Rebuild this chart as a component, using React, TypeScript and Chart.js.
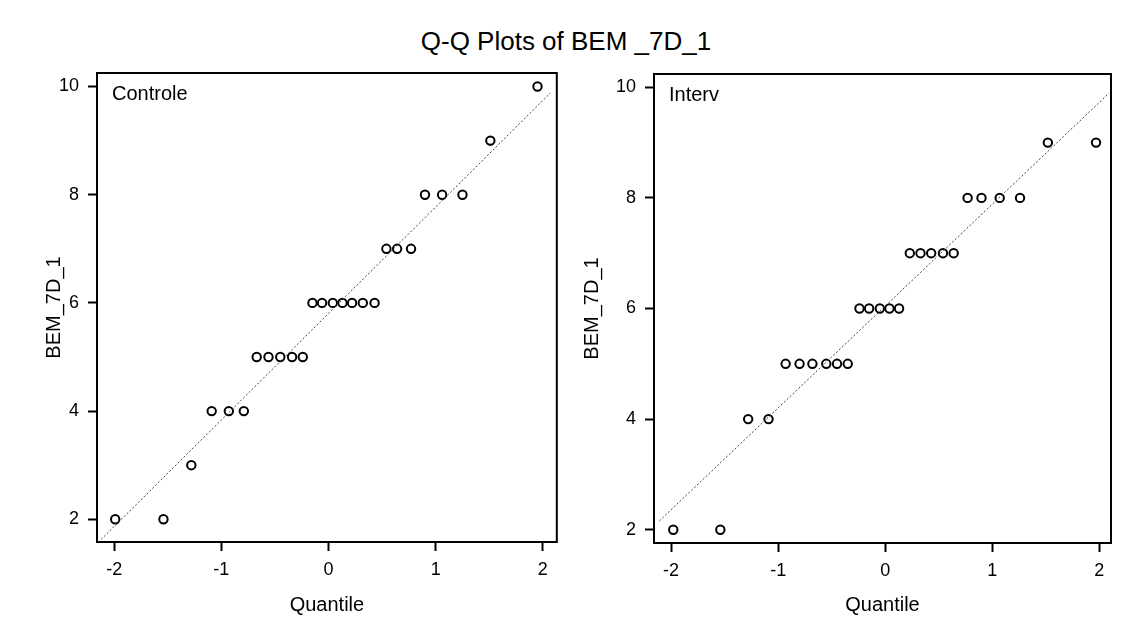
import React, { useEffect, useRef } from "react";
import { Chart, registerables } from "chart.js";

Chart.register(...registerables);

const titleText = "Q-Q Plots of BEM _7D_1";
const yAxisTitle = "BEM_7D_1";
const xAxisTitle = "Quantile";
const xTicks = [-2, -1, 0, 1, 2];
const yTicks = [2, 4, 6, 8, 10];

const ctrlLabel = "Controle";
const ctrlQ = [-1.99, -1.54, -1.28, -1.09, -0.93, -0.79, -0.67, -0.56, -0.45, -0.34, -0.24, -0.15, -0.06, 0.04, 0.13, 0.22, 0.32, 0.43, 0.54, 0.64, 0.77, 0.9, 1.06, 1.25, 1.51, 1.95];
const ctrlV = [2, 2, 3, 4, 4, 4, 5, 5, 5, 5, 5, 6, 6, 6, 6, 6, 6, 6, 7, 7, 7, 8, 8, 8, 9, 10];
const ctrlLineX = [-2.12, 2.07];
const ctrlLineY = [1.63, 9.88];

const intLabel = "Interv";
const intQ = [-1.98, -1.54, -1.28, -1.09, -0.93, -0.8, -0.68, -0.55, -0.45, -0.35, -0.24, -0.15, -0.05, 0.04, 0.13, 0.23, 0.33, 0.43, 0.54, 0.64, 0.77, 0.9, 1.07, 1.26, 1.52, 1.97];
const intV = [2, 2, 4, 4, 5, 5, 5, 5, 5, 5, 6, 6, 6, 6, 6, 7, 7, 7, 7, 7, 8, 8, 8, 8, 9, 9];
const intLineX = [-2.11, 2.09];
const intLineY = [2.16, 9.89];

const FONT = "'Liberation Sans', Arial, sans-serif";

type PanelProps = {
  left: number;
  label: string;
  q: number[];
  v: number[];
  lx: number[];
  ly: number[];
  xMin: number;
  xMax: number;
  yMin: number;
  yMax: number;
  yAxisWidth: number;
  titlePad: number;
  padTop: number;
  padRight: number;
  xAxisHeight: number;
};

function Panel(p: PanelProps) {
  const ref = useRef<HTMLCanvasElement | null>(null);
  useEffect(() => {
    if (!ref.current) return;
    const boxPlugin = {
      id: "box",
      afterDatasetsDraw(chart: any) {
        const { ctx, chartArea } = chart;
        ctx.save();
        ctx.strokeStyle = "#000";
        ctx.lineWidth = 2;
        ctx.strokeRect(chartArea.left, chartArea.top, chartArea.right - chartArea.left, chartArea.bottom - chartArea.top);
        ctx.fillStyle = "#000";
        ctx.font = `20px ${FONT}`;
        ctx.textBaseline = "middle";
        ctx.textAlign = "left";
        ctx.fillText(p.label, chartArea.left + 15, chartArea.top + 21);
        ctx.restore();
      },
    };
    const chart = new Chart(ref.current, {
      type: "scatter",
      data: {
        datasets: [
          {
            data: p.lx.map((x, i) => ({ x, y: p.ly[i] })),
            showLine: true,
            pointRadius: 0,
            borderColor: "#444",
            borderWidth: 1,
            borderDash: [2, 2],
          },
          {
            data: p.q.map((x, i) => ({ x, y: p.v[i] })),
            pointRadius: 4.2,
            pointBorderWidth: 2,
            pointBorderColor: "#000",
            pointBackgroundColor: "#fff",
          },
        ],
      },
      options: {
        animation: false,
        responsive: false,
        layout: { padding: { left: 0, top: p.padTop, right: p.padRight, bottom: 0 } },
        plugins: { legend: { display: false }, tooltip: { enabled: false } },
        scales: {
          x: {
            type: "linear",
            min: p.xMin,
            max: p.xMax,
            afterBuildTicks: (s: any) => {
              s.ticks = xTicks.map((value) => ({ value }));
            },
            afterFit: (s: any) => {
              s.height = p.xAxisHeight;
            },
            grid: { drawOnChartArea: false, drawTicks: true, tickLength: 9, tickColor: "#000", tickWidth: 2 },
            border: { display: true, color: "#000", width: 2 },
            ticks: { color: "#000", font: { family: FONT, size: 18 }, padding: 8, maxRotation: 0 },
            title: { display: true, text: xAxisTitle, color: "#000", font: { family: FONT, size: 20 }, padding: { top: 0, bottom: 17 } },
          },
          y: {
            type: "linear",
            min: p.yMin,
            max: p.yMax,
            afterBuildTicks: (s: any) => {
              s.ticks = yTicks.map((value) => ({ value }));
            },
            afterFit: (s: any) => {
              s.width = p.yAxisWidth;
            },
            grid: { drawOnChartArea: false, drawTicks: true, tickLength: 9, tickColor: "#000", tickWidth: 2 },
            border: { display: true, color: "#000", width: 2 },
            ticks: { color: "#000", font: { family: FONT, size: 18 }, padding: 9 },
            title: { display: true, text: yAxisTitle, color: "#000", font: { family: FONT, size: 20 }, padding: { top: p.titlePad, bottom: 0 } },
          },
        },
      },
      plugins: [boxPlugin],
    } as any);
    return () => chart.destroy();
  }, []);
  return (
    <canvas
      ref={ref}
      width={563}
      height={634}
      style={{ position: "absolute", left: p.left, top: 0, width: 563, height: 634 }}
    />
  );
}

export default function App() {
  return (
    <div style={{ position: "fixed", left: 0, top: 0, width: 1126, height: 634, background: "#fff", fontFamily: FONT }}>
      <div
        style={{
          position: "absolute",
          left: 0,
          width: 1132,
          top: 26,
          textAlign: "center",
          fontSize: 26,
          lineHeight: "30px",
          color: "#000",
        }}
      >
        {titleText}
      </div>
      <Panel
        left={0}
        label={ctrlLabel}
        q={ctrlQ}
        v={ctrlV}
        lx={ctrlLineX}
        ly={ctrlLineY}
        xMin={-2.16}
        xMax={2.13}
        yMin={1.58}
        yMax={10.25}
        yAxisWidth={97}
        titlePad={42}
        padTop={73}
        padRight={5}
        xAxisHeight={92}
      />
      <Panel
        left={563}
        label={intLabel}
        q={intQ}
        v={intV}
        lx={intLineX}
        ly={intLineY}
        xMin={-2.16}
        xMax={2.11}
        yMin={1.76}
        yMax={10.24}
        yAxisWidth={91}
        titlePad={17}
        padTop={74}
        padRight={15}
        xAxisHeight={91}
      />
    </div>
  );
}
